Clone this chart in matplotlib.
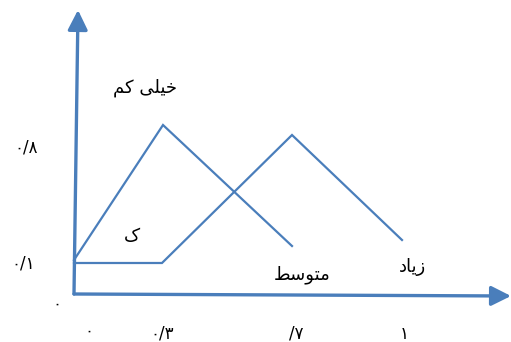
import matplotlib
matplotlib.use("Agg")
import matplotlib.pyplot as plt

# Membership functions, x/y measured from the axis origin (pixel units of the sketch)
low_x = [0, 89, 218]
low_y = [34, 169, 48]
mid_x = [0, 88, 218, 328]
mid_y = [31, 31, 159, 54]

# Persian labels (presentation forms so they render joined, right-to-left)
label_low = "\ufee2\ufb90 \ufbfd\ufee0\ufbff\ufea7"      # خیلی کم
label_k = "\ufb8e"                                        # ک
label_mid = "\ufec2\ufeb3\ufeee\ufe98\ufee3"             # متوسط
label_high = "\ufea9\ufe8e\ufbfe\ufeaf"                  # زیاد

y_ticks = ["۰/۸", "۰/۱", "۰"]
y_tick_pos = [(-48, 147), (-51, 30), (-17, -10)]
x_ticks = ["۰", "۰/۳", "/۷", "۱"]
x_tick_pos = [(15, -37), (88, -40), (222, -39), (330, -40)]

BLUE = "#4a7ebb"

fig = plt.figure(figsize=(5.11, 3.42), dpi=100)
ax = fig.add_axes([0, 0, 1, 1])
ax.set_xlim(-74, 437)
ax.set_ylim(-48, 294)
ax.axis("off")

arrow = dict(arrowstyle="-|>,head_length=0.6,head_width=0.3", mutation_scale=20,
             color=BLUE, lw=2.4, shrinkA=0, shrinkB=0)
ax.annotate("", xy=(4, 284), xytext=(0, 0), arrowprops=arrow)
ax.annotate("", xy=(437, -2), xytext=(0, 0), arrowprops=arrow)

ax.plot(low_x, low_y, color=BLUE, lw=1.6, solid_joinstyle="miter")
ax.plot(mid_x, mid_y, color=BLUE, lw=1.6, solid_joinstyle="miter")

txt = dict(family="DejaVu Sans", ha="center", va="center", color="black")
ax.text(71, 206, label_low, fontsize=13, **txt)
ax.text(58, 58, label_k, fontsize=13, **txt)
ax.text(228, 19, label_mid, fontsize=13, **txt)
ax.text(339, 27, label_high, fontsize=13, **txt)

for s, (x, y) in zip(y_ticks, y_tick_pos):
    ax.text(x, y, s, fontsize=12, **txt)
for s, (x, y) in zip(x_ticks, x_tick_pos):
    ax.text(x, y, s, fontsize=12, **txt)

fig.savefig("out.png", dpi=100)
